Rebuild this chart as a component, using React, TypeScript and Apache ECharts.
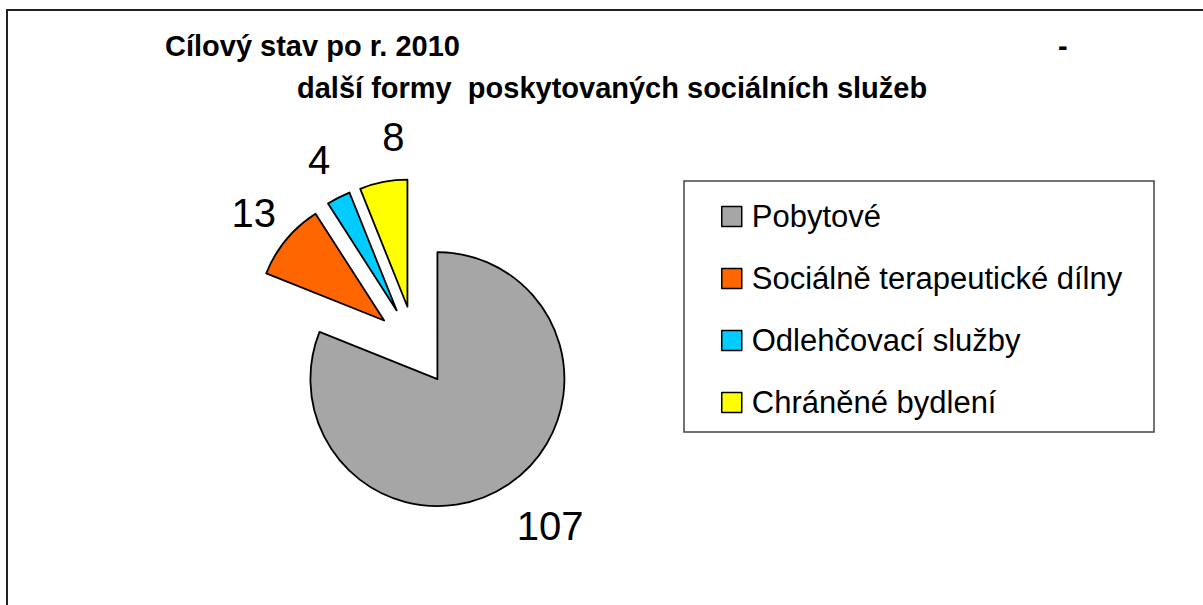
import React, { useEffect, useRef } from "react";
import * as echarts from "echarts";

const TITLE_LINE1 = "Cílový stav po r. 2010";
const TITLE_DASH = "-";
const TITLE_LINE2 = "další formy  poskytovaných sociálních služeb";

const categories = [
  "Pobytové",
  "Sociálně terapeutické dílny",
  "Odlehčovací služby",
  "Chráněné bydlení",
];
const values = [107, 13, 4, 8];
const colors = ["#A6A6A6", "#FF6600", "#00CCFF", "#FFFF00"];

const FONT = "'Liberation Sans', Arial, sans-serif";

// per-slice label nudges: horizontal via padding, vertical via an empty line
const labelNudge: ({ padding: number[]; formatter: string; lineHeight: number } | null)[] = [
  { padding: [0, 0, 0, 36], formatter: "\n{c}", lineHeight: 14 },
  null,
  null,
  { padding: [0, 0, 0, 36], formatter: "{c}\n", lineHeight: 8 },
];

export default function App() {
  const ref = useRef<HTMLDivElement>(null);

  useEffect(() => {
    document.body.style.margin = "0";
    if (!ref.current) return;
    const chart = echarts.init(ref.current, undefined, { renderer: "svg" });

    const titleStyle = {
      fontSize: 29,
      fontWeight: "bold" as const,
      fontFamily: FONT,
      color: "#000",
    };

    chart.setOption({
      animation: false,
      backgroundColor: "#fff",
      title: [
        { text: TITLE_LINE1, left: 165, top: 31, padding: 0, textStyle: titleStyle },
        { text: TITLE_DASH, left: 1058, top: 31, padding: 0, textStyle: titleStyle },
        { text: TITLE_LINE2, left: 297, top: 73, padding: 0, textStyle: titleStyle },
      ],
      graphic: [
        {
          type: "rect",
          z: -10,
          shape: { x: 7, y: 10, width: 1300, height: 700 },
          style: { fill: "none", stroke: "#222", lineWidth: 2 },
          silent: true,
        },
        {
          type: "rect",
          z: -10,
          shape: { x: 684, y: 181, width: 470, height: 251 },
          style: { fill: "none", stroke: "#444", lineWidth: 1.5 },
          silent: true,
        },
      ],
      legend: {
        orient: "vertical",
        left: 721,
        top: 201,
        padding: 0,
        itemWidth: 20,
        itemHeight: 20,
        itemGap: 31,
        icon: "rect",
        selectedMode: false,
        data: categories,
        itemStyle: { borderColor: "#000", borderWidth: 1.5 },
        textStyle: {
          fontSize: 31,
          fontFamily: FONT,
          color: "#000",
          lineHeight: 30,
          padding: [0, 0, 0, 5],
        },
      },
      series: [
        {
          type: "pie",
          center: [415, 346],
          radius: 127,
          startAngle: 90,
          clockwise: true,
          selectedMode: "multiple",
          selectedOffset: 40,
          label: { show: false },
          labelLine: { show: false },
          emphasis: { disabled: true },
          itemStyle: { borderColor: "#000", borderWidth: 1.8 },
          data: categories.map((name, i) => ({
            name,
            value: values[i],
            selected: true,
            itemStyle: { color: colors[i] },
            select: { itemStyle: { color: colors[i], borderColor: "#000", borderWidth: 1.8 } },
          })),
        },
        {
          type: "pie",
          center: [415, 346],
          radius: [150, 182],
          startAngle: 90,
          clockwise: true,
          silent: true,
          selectedMode: "multiple",
          selectedOffset: 40,
          avoidLabelOverlap: false,
          emphasis: { disabled: true },
          itemStyle: { color: "rgba(0,0,0,0)", borderWidth: 0 },
          labelLine: { show: false },
          label: {
            show: true,
            position: "inside",
            rotate: 0,
            formatter: "{c}",
            fontSize: 40,
            fontFamily: FONT,
            color: "#000",
          },
          data: categories.map((name, i) => ({
            name,
            value: values[i],
            selected: true,
            itemStyle: { color: "rgba(0,0,0,0)" },
            select: { itemStyle: { color: "rgba(0,0,0,0)", borderWidth: 0 } },
            label: labelNudge[i] ? { ...labelNudge[i] } : undefined,
          })),
        },
      ],
    });

    return () => chart.dispose();
  }, []);

  return <div ref={ref} style={{ width: 1203, height: 605 }} />;
}
